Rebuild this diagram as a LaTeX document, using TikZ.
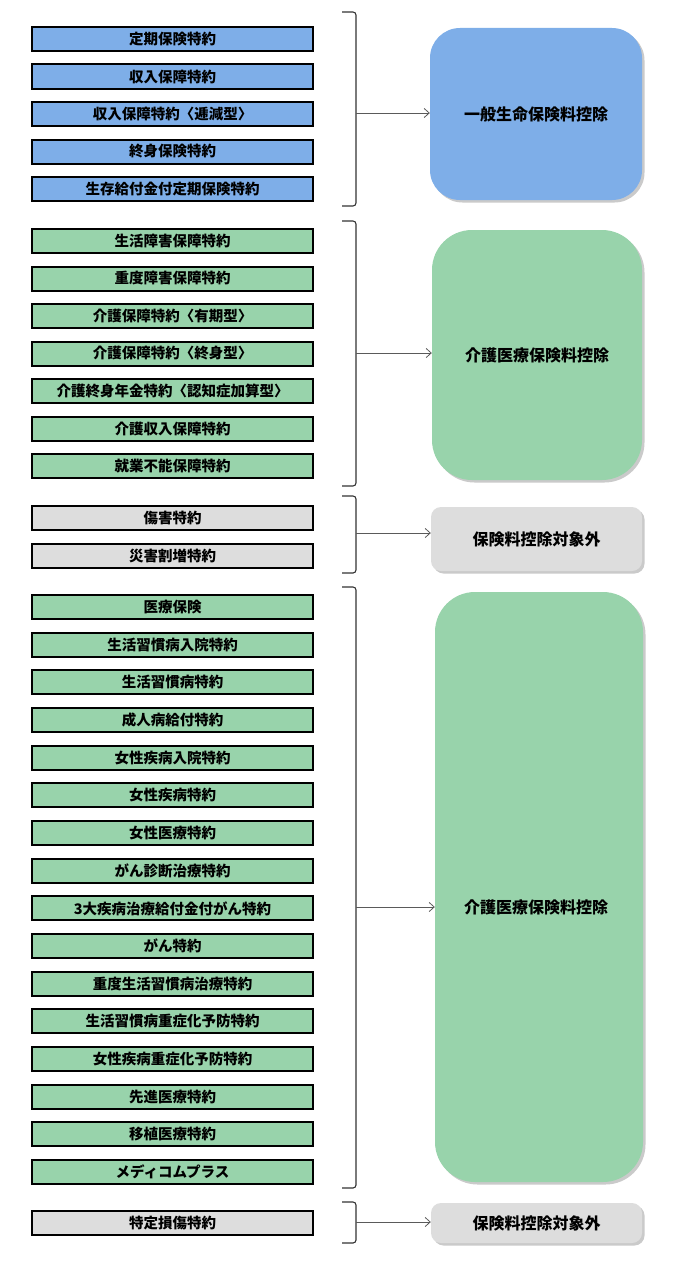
\documentclass[tikz,border=0pt]{standalone}
\usepackage{fontspec}
\setmainfont{Noto Sans CJK JP}
\usetikzlibrary{arrows.meta,shadows}
\definecolor{blueF}{RGB}{126,174,232}
\definecolor{greenF}{RGB}{152,211,171}
\definecolor{grayF}{RGB}{221,221,221}
\definecolor{lineC}{RGB}{90,90,90}
\tikzset{
  lbox/.style={draw=black, line width=2pt, minimum width=281pt, minimum height=24pt,
    inner sep=0pt, font=\fontsize{14.5}{15}\selectfont\bfseries},
  rbox/.style={inner sep=0pt, font=\fontsize{16}{17}\selectfont\bfseries,
    drop shadow={shadow xshift=2.5pt, shadow yshift=-2.5pt, opacity=0.35, fill=black!60}},
  brk/.style={draw=black!80, line width=1.1pt, rounded corners=3pt},
  conn/.style={draw=lineC, line width=0.8pt, -{Straight Barb[length=5pt,width=9pt]}},
}
\begin{document}
\begin{tikzpicture}[x=1pt,y=-1pt]
\useasboundingbox (0,0) rectangle (672,1263);
% group 1
\node[lbox, fill=blueF] (a1) at (172.5,39) {定期保険特約};
\node[lbox, fill=blueF] (a2) at (172.5,76.5) {収入保障特約};
\node[lbox, fill=blueF] (a3) at (172.5,114) {収入保障特約〈逓減型〉};
\node[lbox, fill=blueF] (a4) at (172.5,151.5) {終身保険特約};
\node[lbox, fill=blueF] (a5) at (172.5,189) {生存給付金付定期保険特約};
% group 2
\node[lbox, fill=greenF] (b1) at (172.5,241) {生活障害保障特約};
\node[lbox, fill=greenF] (b2) at (172.5,278.5) {重度障害保障特約};
\node[lbox, fill=greenF] (b3) at (172.5,316) {介護保障特約〈有期型〉};
\node[lbox, fill=greenF] (b4) at (172.5,353.5) {介護保障特約〈終身型〉};
\node[lbox, fill=greenF] (b5) at (172.5,391) {介護終身年金特約〈認知症加算型〉};
\node[lbox, fill=greenF] (b6) at (172.5,428.5) {介護収入保障特約};
\node[lbox, fill=greenF] (b7) at (172.5,466) {就業不能保障特約};
% group 3
\node[lbox, fill=grayF] (c1) at (172.5,518) {傷害特約};
\node[lbox, fill=grayF] (c2) at (172.5,556) {災害割増特約};
% group 4
\foreach \t [count=\i from 0] in {医療保険,生活習慣病入院特約,生活習慣病特約,成人病給付特約,女性疾病入院特約,女性疾病特約,女性医療特約,がん診断治療特約,3大疾病治療給付金付がん特約,がん特約,重度生活習慣病治療特約,生活習慣病重症化予防特約,女性疾病重症化予防特約,先進医療特約,移植医療特約,メディコムプラス}
  \node[lbox, fill=greenF] (d\i) at (172.5,{607+37.67*\i}) {\t};
% group 5
\node[lbox, fill=grayF] (e1) at (172.5,1223) {特定損傷特約};

% right boxes
\node[rbox, fill=blueF, rounded corners=30pt, minimum width=212pt, minimum height=172pt] (r1) at (536,114) {一般生命保険料控除};
\node[rbox, fill=greenF, rounded corners=40pt, minimum width=210pt, minimum height=250pt] (r2) at (537,355) {介護医療保険料控除};
\node[rbox, fill=grayF, rounded corners=10pt, minimum width=211pt, minimum height=64pt] (r3) at (536.5,539) {保険料控除対象外};
\node[rbox, fill=greenF, rounded corners=40pt, minimum width=208pt, minimum height=590pt] (r4) at (539,887) {};
\node[font=\fontsize{16}{17}\selectfont\bfseries, inner sep=0pt] (r4t) at (536,907) {介護医療保険料控除};
\node[rbox, fill=grayF, rounded corners=10pt, minimum width=211pt, minimum height=40pt] (r5) at (536.5,1223) {保険料控除対象外};

% brackets
\draw[brk] (342,12) -- (356,12) -- (356,206) -- (342,206);
\draw[brk] (342,221) -- (356,221) -- (356,486) -- (342,486);
\draw[brk] (342,496) -- (356,496) -- (356,573) -- (342,573);
\draw[brk] (342,587) -- (356,587) -- (356,1188) -- (342,1188);
\draw[brk] (342,1202) -- (356,1202) -- (356,1243) -- (342,1243);
\coordinate (m1) at (356,113);
\coordinate (m2) at (356,353);
\coordinate (m3) at (356,533);
\coordinate (m4) at (356,907);
\coordinate (m5) at (356,1222);
\draw[conn] (m1) -- (m1 -| r1.west);
\draw[conn] (m2) -- (m2 -| r2.west);
\draw[conn] (m3) -- (m3 -| r3.west);
\draw[conn] (m4) -- (m4 -| r4.west);
\draw[conn] (m5) -- (m5 -| r5.west);
\end{tikzpicture}
\end{document}
